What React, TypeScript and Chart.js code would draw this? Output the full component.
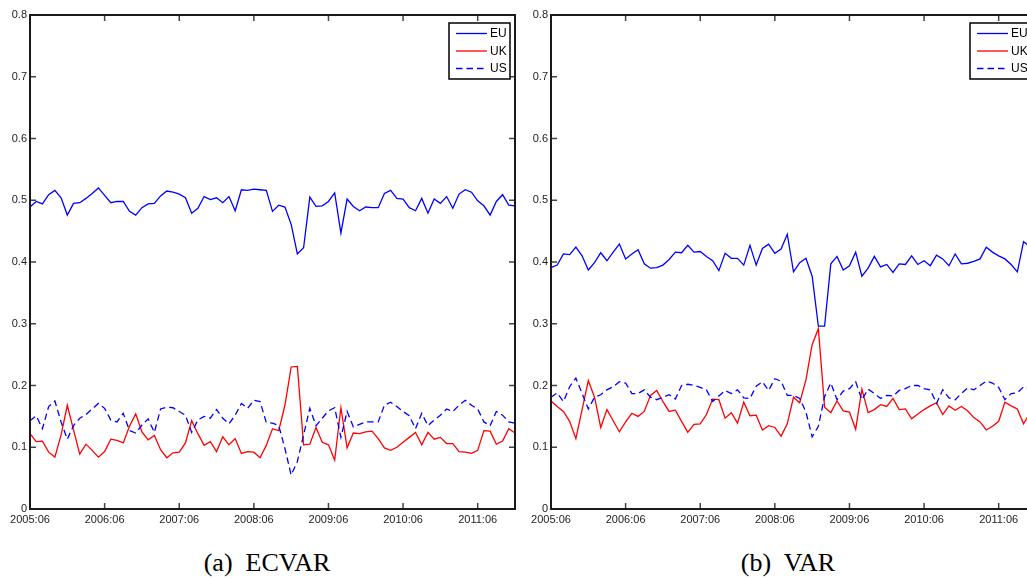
import React, { useEffect, useRef } from "react";
import { Chart, registerables } from "chart.js";

Chart.register(...registerables);

// ---------- data ----------
const START_YEAR = 2005;
const START_MONTH = 6;
const N_MONTHS = 79;
const months: string[] = [];
for (let k = 0; k < N_MONTHS; k++) {
  const m = START_MONTH - 1 + k;
  const y = START_YEAR + Math.floor(m / 12);
  const mm = (m % 12) + 1;
  months.push(`${y}:${String(mm).padStart(2, "0")}`);
}
const tickMonth = ":06";

const seriesNames = ["EU", "UK", "US"];

const ecvarEU = [
  0.489, 0.498, 0.494, 0.509, 0.516, 0.504, 0.476, 0.495, 0.496, 0.503,
  0.511, 0.52, 0.508, 0.496, 0.498, 0.498, 0.482, 0.476, 0.488, 0.494,
  0.495, 0.507, 0.515, 0.513, 0.51, 0.504, 0.479, 0.487, 0.506, 0.501,
  0.504, 0.496, 0.506, 0.483, 0.517, 0.516, 0.518, 0.517, 0.516, 0.482,
  0.492, 0.489, 0.461, 0.413, 0.423, 0.505, 0.49, 0.491, 0.498, 0.512,
  0.447, 0.502, 0.49, 0.483, 0.489, 0.488, 0.488, 0.511, 0.516, 0.503,
  0.502, 0.488, 0.483, 0.503, 0.479, 0.502, 0.495, 0.506, 0.487, 0.51,
  0.517, 0.513, 0.499, 0.491, 0.476, 0.498, 0.509, 0.492, 0.491,
];
const ecvarUK = [
  0.122, 0.109, 0.11, 0.092, 0.084, 0.12, 0.168, 0.128, 0.089, 0.105,
  0.095, 0.084, 0.093, 0.113, 0.111, 0.107, 0.134, 0.154, 0.125, 0.112,
  0.119, 0.096, 0.083, 0.091, 0.092, 0.107, 0.143, 0.122, 0.103, 0.109,
  0.093, 0.117, 0.104, 0.114, 0.09, 0.093, 0.092, 0.083, 0.103, 0.13,
  0.127, 0.168, 0.23, 0.231, 0.104, 0.105, 0.132, 0.108, 0.104, 0.079,
  0.164, 0.099, 0.123, 0.122, 0.125, 0.126, 0.114, 0.099, 0.095, 0.1,
  0.108, 0.116, 0.124, 0.104, 0.124, 0.113, 0.116, 0.106, 0.106, 0.093,
  0.092, 0.09, 0.095, 0.127, 0.126, 0.105, 0.11, 0.13, 0.123,
];
const ecvarUS = [
  0.143, 0.151, 0.13, 0.166, 0.175, 0.141, 0.113, 0.135, 0.147, 0.153,
  0.162, 0.171, 0.163, 0.144, 0.141, 0.155, 0.127, 0.123, 0.136, 0.146,
  0.124, 0.162, 0.165, 0.164, 0.158, 0.152, 0.124, 0.144, 0.15, 0.147,
  0.161, 0.147, 0.138, 0.152, 0.171, 0.163, 0.176, 0.174, 0.14, 0.139,
  0.135, 0.098, 0.055, 0.077, 0.12, 0.163, 0.135, 0.147, 0.159, 0.164,
  0.116, 0.158, 0.133, 0.137, 0.141, 0.141, 0.141, 0.168, 0.173, 0.166,
  0.158, 0.151, 0.13, 0.155, 0.135, 0.144, 0.152, 0.162, 0.158, 0.168,
  0.176, 0.168, 0.162, 0.141, 0.135, 0.158, 0.152, 0.141, 0.139,
];
const varEU = [
  0.391, 0.395, 0.413, 0.412, 0.424, 0.41, 0.387, 0.399, 0.415, 0.402,
  0.416, 0.429, 0.405, 0.413, 0.42, 0.397, 0.39, 0.391, 0.395, 0.404,
  0.416, 0.415, 0.427, 0.416, 0.417, 0.409, 0.402, 0.386, 0.414, 0.406,
  0.406, 0.395, 0.427, 0.395, 0.422, 0.429, 0.414, 0.421, 0.445, 0.384,
  0.399, 0.406, 0.377, 0.296, 0.296, 0.397, 0.409, 0.387, 0.394, 0.416,
  0.377, 0.39, 0.409, 0.392, 0.396, 0.383, 0.397, 0.396, 0.41, 0.396,
  0.402, 0.394, 0.411, 0.405, 0.394, 0.413, 0.397, 0.398, 0.401, 0.405,
  0.424, 0.416, 0.41, 0.405, 0.396, 0.384, 0.433, 0.425, 0.42,
];
const varUK = [
  0.175, 0.166, 0.158, 0.142, 0.114, 0.161, 0.208, 0.181, 0.132, 0.161,
  0.143, 0.125, 0.141, 0.155, 0.15, 0.158, 0.184, 0.192, 0.174, 0.158,
  0.16, 0.142, 0.124, 0.137, 0.138, 0.153, 0.178, 0.177, 0.147, 0.156,
  0.139, 0.173, 0.151, 0.152, 0.128, 0.135, 0.132, 0.118, 0.138, 0.181,
  0.172, 0.209, 0.266, 0.292, 0.165, 0.156, 0.175, 0.159, 0.157, 0.129,
  0.194, 0.156, 0.161, 0.169, 0.166, 0.179, 0.161, 0.162, 0.146, 0.154,
  0.161, 0.167, 0.172, 0.153, 0.167, 0.16, 0.166, 0.159, 0.148, 0.141,
  0.128, 0.134, 0.142, 0.173, 0.167, 0.162, 0.138, 0.155, 0.15,
];
const varUS = [
  0.181, 0.188, 0.174, 0.198, 0.212, 0.187, 0.162, 0.181, 0.185, 0.193,
  0.198, 0.206, 0.204, 0.187, 0.187, 0.193, 0.181, 0.177, 0.181, 0.185,
  0.178, 0.2, 0.202, 0.2, 0.197, 0.193, 0.174, 0.183, 0.192, 0.187,
  0.193, 0.18, 0.179, 0.199, 0.206, 0.192, 0.211, 0.207, 0.184, 0.184,
  0.179, 0.157, 0.117, 0.134, 0.182, 0.204, 0.177, 0.191, 0.195, 0.206,
  0.177, 0.194, 0.187, 0.179, 0.184, 0.183, 0.192, 0.195, 0.2, 0.2,
  0.195, 0.193, 0.171, 0.193, 0.18, 0.177, 0.187, 0.196, 0.193, 0.2,
  0.207, 0.204, 0.197, 0.177, 0.187, 0.188, 0.198, 0.195, 0.19,
];

const yMin = 0;
const yMax = 0.8;
const yStep = 0.1;

// ---------- styles ----------
const SANS = "'Liberation Sans', Arial, sans-serif";
const SERIF = "'Liberation Serif', 'Times New Roman', serif";
const seriesColors = ["#0000ff", "#ff0000", "#0000ff"];
const seriesDash: number[][] = [[], [], [6.5, 4]];
const TICK_LEN = 6;

const framePlugin = {
  id: "frameAndLegend",
  afterDraw(chart: any) {
    const { ctx, chartArea: a, scales } = chart;
    ctx.save();
    // inward ticks
    ctx.strokeStyle = "#444";
    ctx.lineWidth = 1.5;
    ctx.setLineDash([]);
    const xs = scales.x;
    months.forEach((lab, i) => {
      if (!lab.endsWith(tickMonth)) return;
      const px = xs.getPixelForValue(i);
      ctx.beginPath();
      ctx.moveTo(px, a.bottom);
      ctx.lineTo(px, a.bottom - TICK_LEN);
      ctx.moveTo(px, a.top);
      ctx.lineTo(px, a.top + TICK_LEN);
      ctx.stroke();
    });
    const ys = scales.y;
    ys.ticks.forEach((t: any) => {
      const py = ys.getPixelForValue(t.value);
      ctx.beginPath();
      ctx.moveTo(a.left, py);
      ctx.lineTo(a.left + TICK_LEN, py);
      ctx.moveTo(a.right, py);
      ctx.lineTo(a.right - TICK_LEN, py);
      ctx.stroke();
    });
    // frame
    ctx.strokeStyle = "#1a1a1a";
    ctx.lineWidth = 2;
    ctx.strokeRect(a.left, a.top, a.right - a.left, a.bottom - a.top);

    // legend box
    const bw = 61;
    const bh = 56;
    const bx = a.right - 5 - bw;
    const by = a.top + 8;
    ctx.fillStyle = "#ffffff";
    ctx.fillRect(bx, by, bw, bh);
    ctx.lineWidth = 1.5;
    ctx.strokeStyle = "#000";
    ctx.strokeRect(bx, by, bw, bh);
    ctx.font = `12px ${SANS}`;
    ctx.textBaseline = "middle";
    ctx.textAlign = "left";
    chart.data.datasets
      .slice()
      .sort((p: any, q: any) => p.legendIndex - q.legendIndex)
      .forEach((ds: any, k: number) => {
        const cy = by + 10.5 + k * 17.5;
        ctx.strokeStyle = ds.borderColor;
        ctx.lineWidth = 1.3;
        ctx.setLineDash(ds.borderDash || []);
        ctx.beginPath();
        ctx.moveTo(bx + 7, cy);
        ctx.lineTo(bx + 38, cy);
        ctx.stroke();
        ctx.setLineDash([]);
        ctx.fillStyle = "#000";
        ctx.fillText(ds.label, bx + 41, cy + 0.5);
      });
    ctx.restore();
  },
};

function makeConfig(series: number[][]) {
  const orders = [2, 1, 0];
  return {
    type: "line" as const,
    data: {
      labels: months,
      datasets: series.map((vals, k) => ({
        label: seriesNames[k],
        data: vals,
        borderColor: seriesColors[k],
        backgroundColor: seriesColors[k],
        borderDash: seriesDash[k],
        borderWidth: 1.3,
        pointRadius: 0,
        tension: 0,
        fill: false,
        order: orders[k],
        legendIndex: k,
      })),
    },
    options: {
      animation: false as const,
      responsive: false,
      maintainAspectRatio: false,
      devicePixelRatio: 1,
      layout: { padding: { top: 15, left: 0, right: 6, bottom: 0 } },
      plugins: {
        legend: { display: false },
        tooltip: { enabled: false },
        title: { display: false },
      },
      scales: {
        x: {
          type: "category" as const,
          offset: false,
          grid: { display: false, drawTicks: false },
          border: { display: false },
          ticks: {
            autoSkip: false,
            maxRotation: 0,
            minRotation: 0,
            padding: 4,
            color: "#222",
            font: { family: SANS, size: 11 },
            callback: (_v: any, i: number) =>
              months[i].endsWith(tickMonth) ? months[i] : null,
          },
          afterFit: (s: any) => {
            s.height = 21;
          },
        },
        y: {
          min: yMin,
          max: yMax,
          grid: { display: false, drawTicks: false },
          border: { display: false },
          ticks: {
            stepSize: yStep,
            padding: 3,
            color: "#222",
            font: { family: SANS, size: 11 },
          },
          afterFit: (s: any) => {
            s.width = 30;
          },
        },
      },
    },
    plugins: [framePlugin],
  };
}

function Panel({ series, left }: { series: number[][]; left: number }) {
  const ref = useRef<HTMLCanvasElement | null>(null);
  useEffect(() => {
    if (!ref.current) return;
    const chart = new Chart(ref.current, makeConfig(series) as any);
    return () => chart.destroy();
  }, [series]);
  return (
    <canvas
      ref={ref}
      width={521}
      height={530}
      style={{ position: "absolute", left, top: 0, width: 521, height: 530 }}
    />
  );
}

const captionStyle: React.CSSProperties = {
  position: "absolute",
  top: 546,
  fontFamily: SERIF,
  fontSize: 26,
  lineHeight: "34px",
  color: "#000",
  whiteSpace: "pre",
  transform: "translateX(-50%)",
};

const ecvarSeries = [ecvarEU, ecvarUK, ecvarUS];
const varSeries = [varEU, varUK, varUS];

export default function App() {
  return (
    <div
      style={{
        position: "fixed",
        left: 0,
        top: 0,
        width: 1027,
        height: 579,
        overflow: "hidden",
        background: "#fff",
      }}
    >
      <Panel series={ecvarSeries} left={0} />
      <Panel series={varSeries} left={521} />
      <div style={{ ...captionStyle, left: 267 }}>(a)  ECVAR</div>
      <div style={{ ...captionStyle, left: 788 }}>(b)  VAR</div>
    </div>
  );
}
